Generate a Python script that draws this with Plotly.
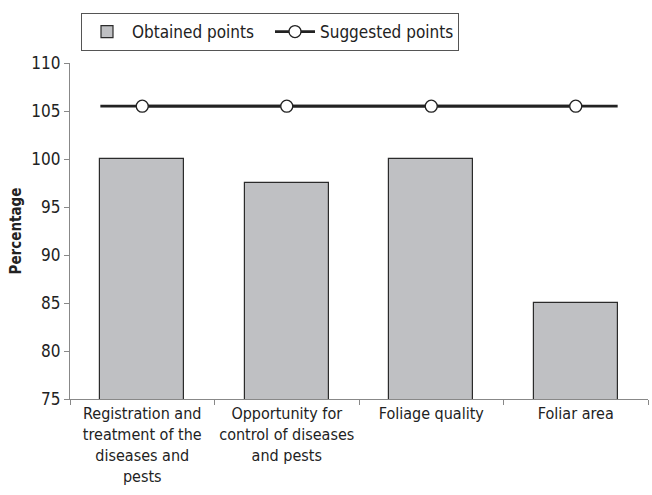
import plotly.graph_objects as go

categories = [
    "Registration and<br>treatment of the<br>diseases and<br>pests",
    "Opportunity for<br>control of diseases<br>and pests",
    "Foliage quality",
    "Foliar area",
]
obtained = [100, 97.5, 100, 85]
suggested = [105.5, 105.5, 105.5, 105.5]
y_ticks = [75, 80, 85, 90, 95, 100, 105, 110]

FONT = "DejaVu Sans Condensed"
bar_width = 0.58
pos = list(range(len(categories)))

fig = go.Figure()
fig.add_trace(go.Bar(
    x=pos, y=obtained, width=bar_width, name="Obtained points",
    marker=dict(color="#bfc0c3", line=dict(color="#2b2b2b", width=1.2)),
))
# reference line runs from the left edge of the first bar to the right edge of the last
fig.add_trace(go.Scatter(
    x=[pos[0] - bar_width / 2, pos[-1] + bar_width / 2], y=[suggested[0], suggested[-1]],
    mode="lines", line=dict(color="#222222", width=2.8), showlegend=False, hoverinfo="skip",
))
fig.add_trace(go.Scatter(
    x=pos, y=suggested, mode="lines+markers", name="Suggested points",
    line=dict(color="#222222", width=2.8),
    marker=dict(symbol="circle", size=12, color="white", line=dict(color="#222222", width=1.3)),
))

fig.update_layout(
    width=652, height=495,
    margin=dict(l=70, r=4, t=63, b=96, autoexpand=False),
    plot_bgcolor="white", paper_bgcolor="white",
    font=dict(family=FONT, size=16, color="#222222"),
    bargap=0,
    legend=dict(
        orientation="h", xref="container", yref="container",
        x=81 / 652, y=1 - 13 / 495, xanchor="left", yanchor="top",
        bordercolor="#555555", borderwidth=1, font=dict(size=17),
        itemwidth=40, entrywidth=133, entrywidthmode="pixels",
    ),
)
fig.update_xaxes(
    range=[-0.5, len(categories) - 0.5], automargin=False,
    tickvals=pos, ticktext=categories, ticks="",
    showline=True, linecolor="#888888", linewidth=1.2,
    showgrid=False, zeroline=False,
    minor=dict(tickvals=[p - 0.5 for p in pos] + [pos[-1] + 0.5], ticks="outside",
               ticklen=5, tickcolor="#888888", showgrid=False),
)
fig.update_yaxes(
    range=[75, 110], tickvals=y_ticks, ticks="outside", ticklen=5, tickcolor="#888888",
    tickfont=dict(size=17),
    showline=True, linecolor="#888888", linewidth=1.2, automargin=False,
    showgrid=False, zeroline=False,
    title=dict(text="<b>Percentage</b>", font=dict(size=15), standoff=6),
)

fig.write_html("out.html", config={"displayModeBar": False},
               post_script="document.body.style.margin='0';")
